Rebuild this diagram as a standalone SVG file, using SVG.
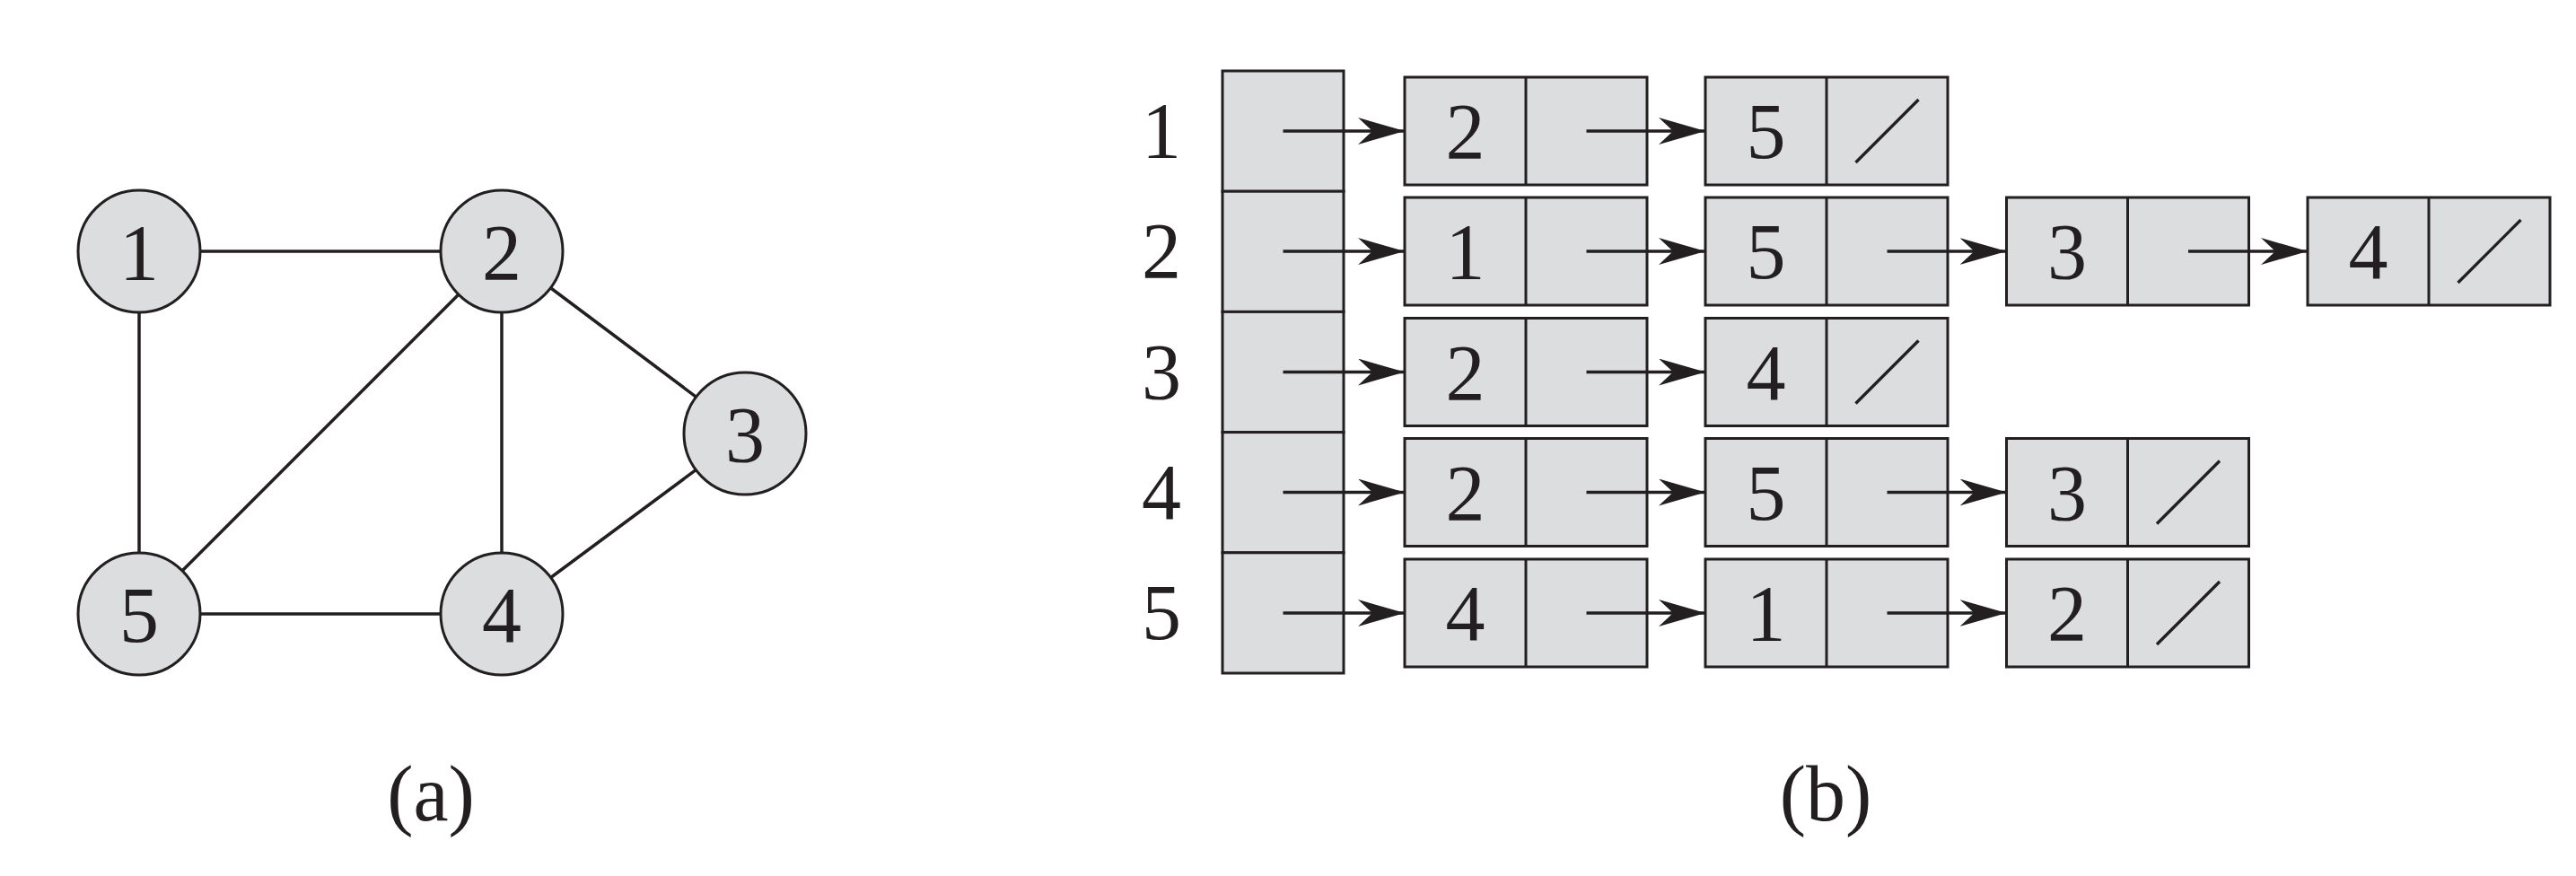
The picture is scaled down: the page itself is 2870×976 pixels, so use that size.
<svg xmlns="http://www.w3.org/2000/svg" width="2870" height="976" viewBox="0 0 2870 976">
<style>
.nd{fill:#dcdddf;stroke:#231f20;stroke-width:3}
.bx{fill:#dcdddf;stroke:#231f20;stroke-width:3}
.dv{stroke:#231f20;stroke-width:3}
.ed{stroke:#231f20;stroke-width:3.5;fill:none}
.ar{stroke:#231f20;stroke-width:3.3;fill:none;marker-end:url(#ah)}
.sl{stroke:#231f20;stroke-width:3.3}
.t{font-family:"Liberation Serif","Times New Roman",serif;font-size:88px;fill:#231f20;text-anchor:middle}
</style>
<defs>
<marker id="ah" markerUnits="userSpaceOnUse" viewBox="0 0 52 30" refX="52" refY="15" markerWidth="52" markerHeight="30" orient="auto">
<path d="M0,0 L52,15 L0,30 L16,15 Z" fill="#231f20"/>
</marker>
</defs>
<rect width="2870" height="976" fill="#ffffff"/>

<g id="connectors">
<line class="ed" x1="155" y1="280" x2="559" y2="280"/>
<line class="ed" x1="155" y1="280" x2="155" y2="684"/>
<line class="ed" x1="559" y1="280" x2="559" y2="684"/>
<line class="ed" x1="155" y1="684" x2="559" y2="684"/>
<line class="ed" x1="559" y1="280" x2="155" y2="684"/>
<line class="ed" x1="559" y1="280" x2="830" y2="483"/>
<line class="ed" x1="830" y1="483" x2="559" y2="684"/>
</g>

<g id="node1"><circle class="nd" cx="155" cy="280" r="68"/><text class="t" x="155" y="311">1</text></g>
<g id="node2"><circle class="nd" cx="559" cy="280" r="68"/><text class="t" x="559" y="311">2</text></g>
<g id="node3"><circle class="nd" cx="830" cy="483" r="68"/><text class="t" x="830" y="514">3</text></g>
<g id="node4"><circle class="nd" cx="559" cy="684" r="68"/><text class="t" x="559" y="715">4</text></g>
<g id="node5"><circle class="nd" cx="155" cy="684" r="68"/><text class="t" x="155" y="715">5</text></g>

<g id="label-a"><text class="t" x="480" y="914">(a)</text></g>
<g id="label-b"><text class="t" x="2034" y="914">(b)</text></g>

<g id="row-labels">
<text class="t" x="1294" y="175">1</text>
<text class="t" x="1294" y="309">2</text>
<text class="t" x="1294" y="443.5">3</text>
<text class="t" x="1294" y="578">4</text>
<text class="t" x="1294" y="712">5</text>
</g>

<g id="header">
<rect class="bx" x="1362" y="79" width="135" height="134.2"/>
<rect class="bx" x="1362" y="213.2" width="135" height="134.2"/>
<rect class="bx" x="1362" y="347.4" width="135" height="134.2"/>
<rect class="bx" x="1362" y="481.6" width="135" height="134.2"/>
<rect class="bx" x="1362" y="615.8" width="135" height="134.2"/>
</g>

<!-- row 1 -->
<g id="r1n1"><rect class="bx" x="1565" y="86" width="270" height="120"/><line class="dv" x1="1700" y1="86" x2="1700" y2="206"/><text class="t" x="1632.5" y="176">2</text></g>
<g id="r1n2"><rect class="bx" x="1900" y="86" width="270" height="120"/><line class="dv" x1="2035" y1="86" x2="2035" y2="206"/><text class="t" x="1967.5" y="176">5</text><line class="sl" x1="2067.5" y1="181" x2="2137.5" y2="111"/></g>

<!-- row 2 -->
<g id="r2n1"><rect class="bx" x="1565" y="220" width="270" height="120"/><line class="dv" x1="1700" y1="220" x2="1700" y2="340"/><text class="t" x="1632.5" y="310">1</text></g>
<g id="r2n2"><rect class="bx" x="1900" y="220" width="270" height="120"/><line class="dv" x1="2035" y1="220" x2="2035" y2="340"/><text class="t" x="1967.5" y="310">5</text></g>
<g id="r2n3"><rect class="bx" x="2235.5" y="220" width="270" height="120"/><line class="dv" x1="2370.5" y1="220" x2="2370.5" y2="340"/><text class="t" x="2303" y="310">3</text></g>
<g id="r2n4"><rect class="bx" x="2571" y="220" width="270" height="120"/><line class="dv" x1="2706" y1="220" x2="2706" y2="340"/><text class="t" x="2638.5" y="310">4</text><line class="sl" x1="2738.5" y1="315" x2="2808.5" y2="245"/></g>

<!-- row 3 -->
<g id="r3n1"><rect class="bx" x="1565" y="354.5" width="270" height="120"/><line class="dv" x1="1700" y1="354.5" x2="1700" y2="474.5"/><text class="t" x="1632.5" y="444.5">2</text></g>
<g id="r3n2"><rect class="bx" x="1900" y="354.5" width="270" height="120"/><line class="dv" x1="2035" y1="354.5" x2="2035" y2="474.5"/><text class="t" x="1967.5" y="444.5">4</text><line class="sl" x1="2067.5" y1="449.5" x2="2137.5" y2="379.5"/></g>

<!-- row 4 -->
<g id="r4n1"><rect class="bx" x="1565" y="488.5" width="270" height="120"/><line class="dv" x1="1700" y1="488.5" x2="1700" y2="608.5"/><text class="t" x="1632.5" y="578.5">2</text></g>
<g id="r4n2"><rect class="bx" x="1900" y="488.5" width="270" height="120"/><line class="dv" x1="2035" y1="488.5" x2="2035" y2="608.5"/><text class="t" x="1967.5" y="578.5">5</text></g>
<g id="r4n3"><rect class="bx" x="2235.5" y="488.5" width="270" height="120"/><line class="dv" x1="2370.5" y1="488.5" x2="2370.5" y2="608.5"/><text class="t" x="2303" y="578.5">3</text><line class="sl" x1="2403" y1="583.5" x2="2473" y2="513.5"/></g>

<!-- row 5 -->
<g id="r5n1"><rect class="bx" x="1565" y="623" width="270" height="120"/><line class="dv" x1="1700" y1="623" x2="1700" y2="743"/><text class="t" x="1632.5" y="713">4</text></g>
<g id="r5n2"><rect class="bx" x="1900" y="623" width="270" height="120"/><line class="dv" x1="2035" y1="623" x2="2035" y2="743"/><text class="t" x="1967.5" y="713">1</text></g>
<g id="r5n3"><rect class="bx" x="2235.5" y="623" width="270" height="120"/><line class="dv" x1="2370.5" y1="623" x2="2370.5" y2="743"/><text class="t" x="2303" y="713">2</text><line class="sl" x1="2403" y1="718" x2="2473" y2="648"/></g>

<g id="list-arrows">
<line class="ar" x1="1429.5" y1="146" x2="1565" y2="146"/>
<line class="ar" x1="1767.5" y1="146" x2="1900" y2="146"/>

<line class="ar" x1="1429.5" y1="280" x2="1565" y2="280"/>
<line class="ar" x1="1767.5" y1="280" x2="1900" y2="280"/>
<line class="ar" x1="2102.5" y1="280" x2="2235.5" y2="280"/>
<line class="ar" x1="2438" y1="280" x2="2571" y2="280"/>

<line class="ar" x1="1429.5" y1="414.5" x2="1565" y2="414.5"/>
<line class="ar" x1="1767.5" y1="414.5" x2="1900" y2="414.5"/>

<line class="ar" x1="1429.5" y1="548.5" x2="1565" y2="548.5"/>
<line class="ar" x1="1767.5" y1="548.5" x2="1900" y2="548.5"/>
<line class="ar" x1="2102.5" y1="548.5" x2="2235.5" y2="548.5"/>

<line class="ar" x1="1429.5" y1="683" x2="1565" y2="683"/>
<line class="ar" x1="1767.5" y1="683" x2="1900" y2="683"/>
<line class="ar" x1="2102.5" y1="683" x2="2235.5" y2="683"/>
</g>
</svg>
